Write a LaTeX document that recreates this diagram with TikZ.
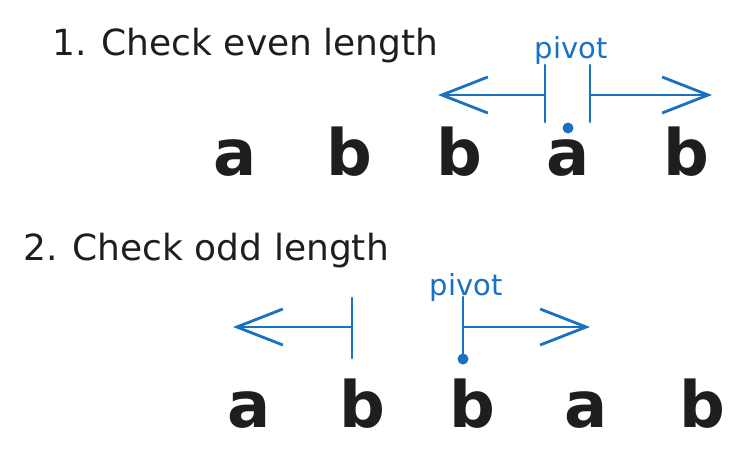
\documentclass[tikz,border=0pt]{standalone}
\usepackage{fontspec}
\setmainfont{DejaVu Sans}
\usetikzlibrary{arrows.meta}
\definecolor{inkblack}{HTML}{1E1E1E}
\definecolor{pivotblue}{HTML}{1971C2}
\tikzset{
  title/.style={anchor=base west,inner sep=0pt,text=inkblack,font=\fontsize{36}{40}\selectfont},
  letter/.style={anchor=base,inner sep=0pt,text=inkblack,font=\fontsize{64}{74}\selectfont\bfseries},
  pivottext/.style={anchor=base,inner sep=0pt,text=pivotblue,font=\fontsize{29}{33}\selectfont},
  bluestroke/.style={draw=pivotblue,line width=2.8pt,line cap=round},
  barb/.style={bluestroke,-{Straight Barb[length=46pt,width=36pt,line width=2.8pt]}},
  pivotdot/.style={circle,fill=pivotblue,inner sep=0pt,minimum size=11pt}
}
\begin{document}
\begin{tikzpicture}[x=1pt,y=-1pt]
\useasboundingbox (0,0) rectangle (738,468);

% Titel
\node[title] (t1) at (52,56) {1. Check even length};
\node[title] (t2) at (23,260) {2. Check odd length};

% Buchstaben (gerade Länge)
\node[letter] (e1) at (235,175) {a};
\node[letter] (e2) at (349,175) {b};
\node[letter] (e3) at (459,175) {b};
\node[letter] (e4) at (568,175) {a};
\node[letter] (e5) at (686,175) {b};

% Buchstaben (ungerade Länge)
\node[letter] (o1) at (249,427) {a};
\node[letter] (o2) at (362,427) {b};
\node[letter] (o3) at (472,427) {b};
\node[letter] (o4) at (586,427) {a};
\node[letter] (o5) at (702,427) {b};

% Pivot oben
\node[pivottext] (p1) at (571,59) {pivot};
\node[pivotdot] (d1) at (568,128) {};
\coordinate (l1top) at (545,65);
\coordinate (l1bot) at (545,122);
\coordinate (r1top) at (590,65);
\coordinate (r1bot) at (590,122);
\coordinate (l1mid) at (545,95);
\coordinate (r1mid) at (590,95);
\coordinate (l1end) at (438,95);
\coordinate (r1end) at (712,95);
\draw[bluestroke] (l1top) -- (l1bot);
\draw[bluestroke] (r1top) -- (r1bot);
\draw[barb] (l1mid) -- (l1end);
\draw[barb] (r1mid) -- (r1end);

% Pivot unten
\node[pivottext] (p2) at (466,295) {pivot};
\node[pivotdot] (d2) at (463,359) {};
\coordinate (l2top) at (352,298);
\coordinate (l2bot) at (352,358);
\coordinate (l2mid) at (352,327);
\coordinate (l2end) at (233,327);
\coordinate (c2top) at (463,297);
\coordinate (c2mid) at (463,327);
\coordinate (r2end) at (590,327);
\draw[bluestroke] (l2top) -- (l2bot);
\draw[bluestroke] (c2top) -- (d2.center);
\draw[barb] (l2mid) -- (l2end);
\draw[barb] (c2mid) -- (r2end);
\end{tikzpicture}
\end{document}
